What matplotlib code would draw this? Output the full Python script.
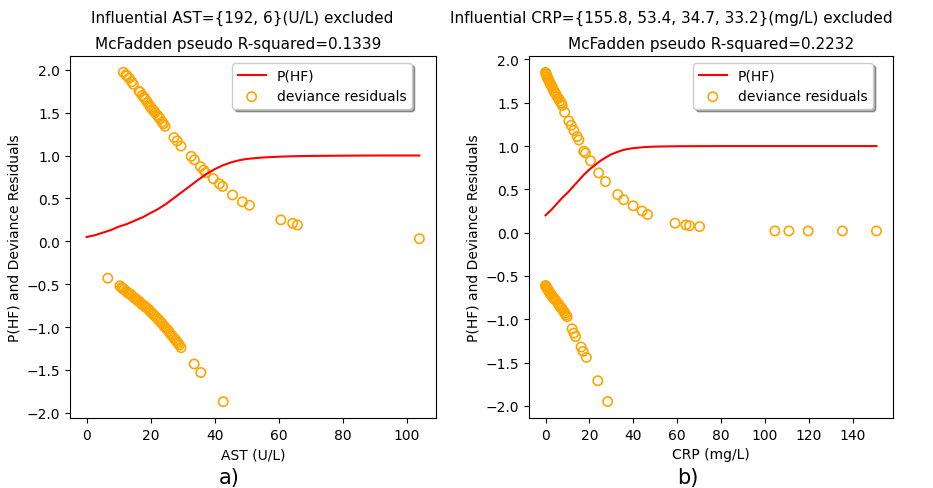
import matplotlib
matplotlib.use("Agg")
import matplotlib.pyplot as plt

# ---- data ----
# panel a) AST
ast_curve_x = [0, 2.5, 5, 7.5, 10, 12.5, 15, 17.5, 20, 22.5, 25, 27.5, 30, 32.5, 35,
               37.5, 40, 42.5, 45, 47.5, 50, 55, 60, 65, 70, 80, 90, 104]
ast_curve_p = [0.05, 0.07, 0.10, 0.13, 0.17, 0.20, 0.24, 0.28, 0.33, 0.38, 0.44, 0.51, 0.58, 0.65, 0.72,
               0.785, 0.84, 0.885, 0.918, 0.943, 0.96, 0.977, 0.986, 0.992, 0.995, 0.998, 1.0, 1.0]

ast_pos_x = [11.5, 12.3, 12.6, 13.3, 14.1, 14.6, 16.4, 16.7, 17.4, 17.9,
             18.3, 19.0, 19.7, 20.1, 20.5, 21.0, 21.4, 22.1, 22.5, 22.9,
             23.6, 24.0, 24.5, 27.3, 28.3, 29.5, 32.7, 33.7, 35.6, 36.6,
             37.2, 39.6, 41.5, 42.5, 45.6, 48.7, 50.9, 60.7, 64.4, 65.9, 104.0]
ast_pos_y = [1.97, 1.94, 1.93, 1.90, 1.86, 1.83, 1.75, 1.74, 1.70, 1.68,
             1.66, 1.62, 1.58, 1.56, 1.54, 1.52, 1.50, 1.47, 1.45, 1.43,
             1.39, 1.37, 1.34, 1.21, 1.17, 1.11, 0.99, 0.95, 0.87, 0.83,
             0.80, 0.73, 0.67, 0.64, 0.54, 0.46, 0.42, 0.25, 0.21, 0.19, 0.03]

ast_neg_x = [6.6, 10.4, 10.9, 11.2, 11.7, 12.3, 12.8, 13.3, 13.8, 14.3,
             14.9, 15.4, 15.9, 16.4, 16.9, 17.4, 18.0, 18.5, 19.0, 19.5,
             20.0, 20.5, 21.0, 21.6, 22.1, 22.6, 23.1, 23.6, 24.2, 24.7,
             25.2, 25.7, 26.2, 26.7, 27.3, 27.8, 28.2, 28.6, 29.0, 29.5,
             33.6, 35.7, 42.7]
ast_neg_y = [-0.43, -0.52, -0.54, -0.55, -0.56, -0.58, -0.60, -0.61, -0.62, -0.64,
             -0.66, -0.67, -0.69, -0.70, -0.72, -0.74, -0.75, -0.77, -0.78, -0.80,
             -0.82, -0.84, -0.86, -0.88, -0.90, -0.92, -0.94, -0.96, -0.99, -1.01,
             -1.03, -1.05, -1.08, -1.10, -1.13, -1.15, -1.17, -1.19, -1.21, -1.24,
             -1.43, -1.53, -1.87]

# panel b) CRP
crp_curve_x = [0, 2.5, 5, 7.5, 10, 12.5, 15, 17.5, 20, 22.5, 25, 27.5, 30, 32.5, 35,
               37.5, 40, 45, 50, 60, 80, 100, 150.8]
crp_curve_p = [0.20, 0.26, 0.33, 0.40, 0.46, 0.53, 0.60, 0.67, 0.73, 0.78, 0.83, 0.87, 0.905, 0.93, 0.952,
               0.966, 0.976, 0.988, 0.994, 0.998, 1.0, 1.0, 1.0]

crp_pos_x = [0.0, 0.1, 0.3, 0.5, 0.7, 1.0, 1.3, 1.6, 2.0, 2.4,
             2.8, 3.2, 3.7, 4.2, 4.7, 5.3, 5.9, 6.5, 7.1, 7.6,
             8.7, 10.6, 11.7, 12.9, 14.4, 15.2, 17.4, 18.2, 20.5, 24.2,
             27.3, 32.9, 35.6, 39.9, 44.0, 46.5, 59.0, 64.0, 65.6, 70.2,
             104.5, 110.9, 119.7, 135.3, 150.8]
crp_pos_y = [1.85, 1.84, 1.83, 1.82, 1.80, 1.78, 1.77, 1.75, 1.73, 1.71,
             1.69, 1.67, 1.64, 1.62, 1.60, 1.57, 1.55, 1.52, 1.50, 1.47,
             1.39, 1.29, 1.24, 1.18, 1.11, 1.07, 0.94, 0.92, 0.83, 0.69,
             0.59, 0.44, 0.38, 0.31, 0.25, 0.21, 0.11, 0.09, 0.08, 0.07,
             0.02, 0.02, 0.02, 0.02, 0.02]

crp_neg_x = [0.0, 0.2, 0.4, 0.6, 0.9, 1.2, 1.5, 1.9, 2.3, 2.7,
             3.1, 3.6, 4.1, 4.6, 5.8, 6.3, 6.8, 7.3, 7.8, 8.3,
             8.8, 9.3, 9.8, 12.1, 12.9, 13.7, 16.2, 17.1, 18.6, 23.8, 28.3]
crp_neg_y = [-0.61, -0.62, -0.63, -0.64, -0.65, -0.66, -0.68, -0.69, -0.71, -0.72,
             -0.74, -0.75, -0.77, -0.78, -0.82, -0.84, -0.86, -0.87, -0.89, -0.91,
             -0.93, -0.95, -0.97, -1.11, -1.16, -1.20, -1.32, -1.37, -1.44, -1.71, -1.95]

W, H = 933, 489
fig = plt.figure(figsize=(W / 100, H / 100), dpi=100)

def px_axes(left, top, right, bottom):
    return fig.add_axes([left / W, 1 - bottom / H, (right - left) / W, (bottom - top) / H])

ax1 = px_axes(70, 57, 436, 419)
ax2 = px_axes(529, 57, 893, 419)

panels = [
    (ax1, ast_curve_x, ast_curve_p, ast_pos_x + ast_neg_x, ast_pos_y + ast_neg_y,
     "AST (U/L)", (-2.06, 2.16), (0.934, 0.981)),
    (ax2, crp_curve_x, crp_curve_p, crp_pos_x + crp_neg_x, crp_pos_y + crp_neg_y,
     "CRP (mg/L)", (-2.14, 2.04), (0.945, 0.981)),
]

for ax, cx, cp, rx, ry, xlab, ylim, leg_anchor in panels:
    ax.plot(cx, cp, color="red", lw=1.5, label="P(HF)")
    ax.scatter(rx, ry, s=45, facecolors="none", edgecolors="orange",
               linewidths=1.2, label="deviance residuals")
    ax.set_ylim(*ylim)
    ax.set_yticks([-2.0, -1.5, -1.0, -0.5, 0.0, 0.5, 1.0, 1.5, 2.0])
    ax.set_xlabel(xlab)
    ax.set_ylabel("P(HF) and Deviance Residuals")
    ax.legend(loc="upper right", bbox_to_anchor=leg_anchor, borderaxespad=0, shadow=True)

ax1.set_xticks([0, 20, 40, 60, 80, 100])
ax2.set_xticks([0, 20, 40, 60, 80, 100, 120, 140])

# titles (two separate lines as in the original)
fig.text(242 / W, 1 - 18 / H, "Influential AST={192, 6}(U/L) excluded", ha="center", va="center", fontsize=11)
fig.text(238 / W, 1 - 45 / H, "McFadden pseudo R-squared=0.1339", ha="center", va="center", fontsize=11)
fig.text(671 / W, 1 - 18 / H, "Influential CRP={155.8, 53.4, 34.7, 33.2}(mg/L) excluded", ha="center", va="center", fontsize=11)
fig.text(711 / W, 1 - 45 / H, "McFadden pseudo R-squared=0.2232", ha="center", va="center", fontsize=11)

fig.text(229 / W, 1 - 478 / H, "a)", ha="center", va="center", fontsize=15)
fig.text(688 / W, 1 - 478 / H, "b)", ha="center", va="center", fontsize=15)

fig.savefig("out.png", dpi=100)
